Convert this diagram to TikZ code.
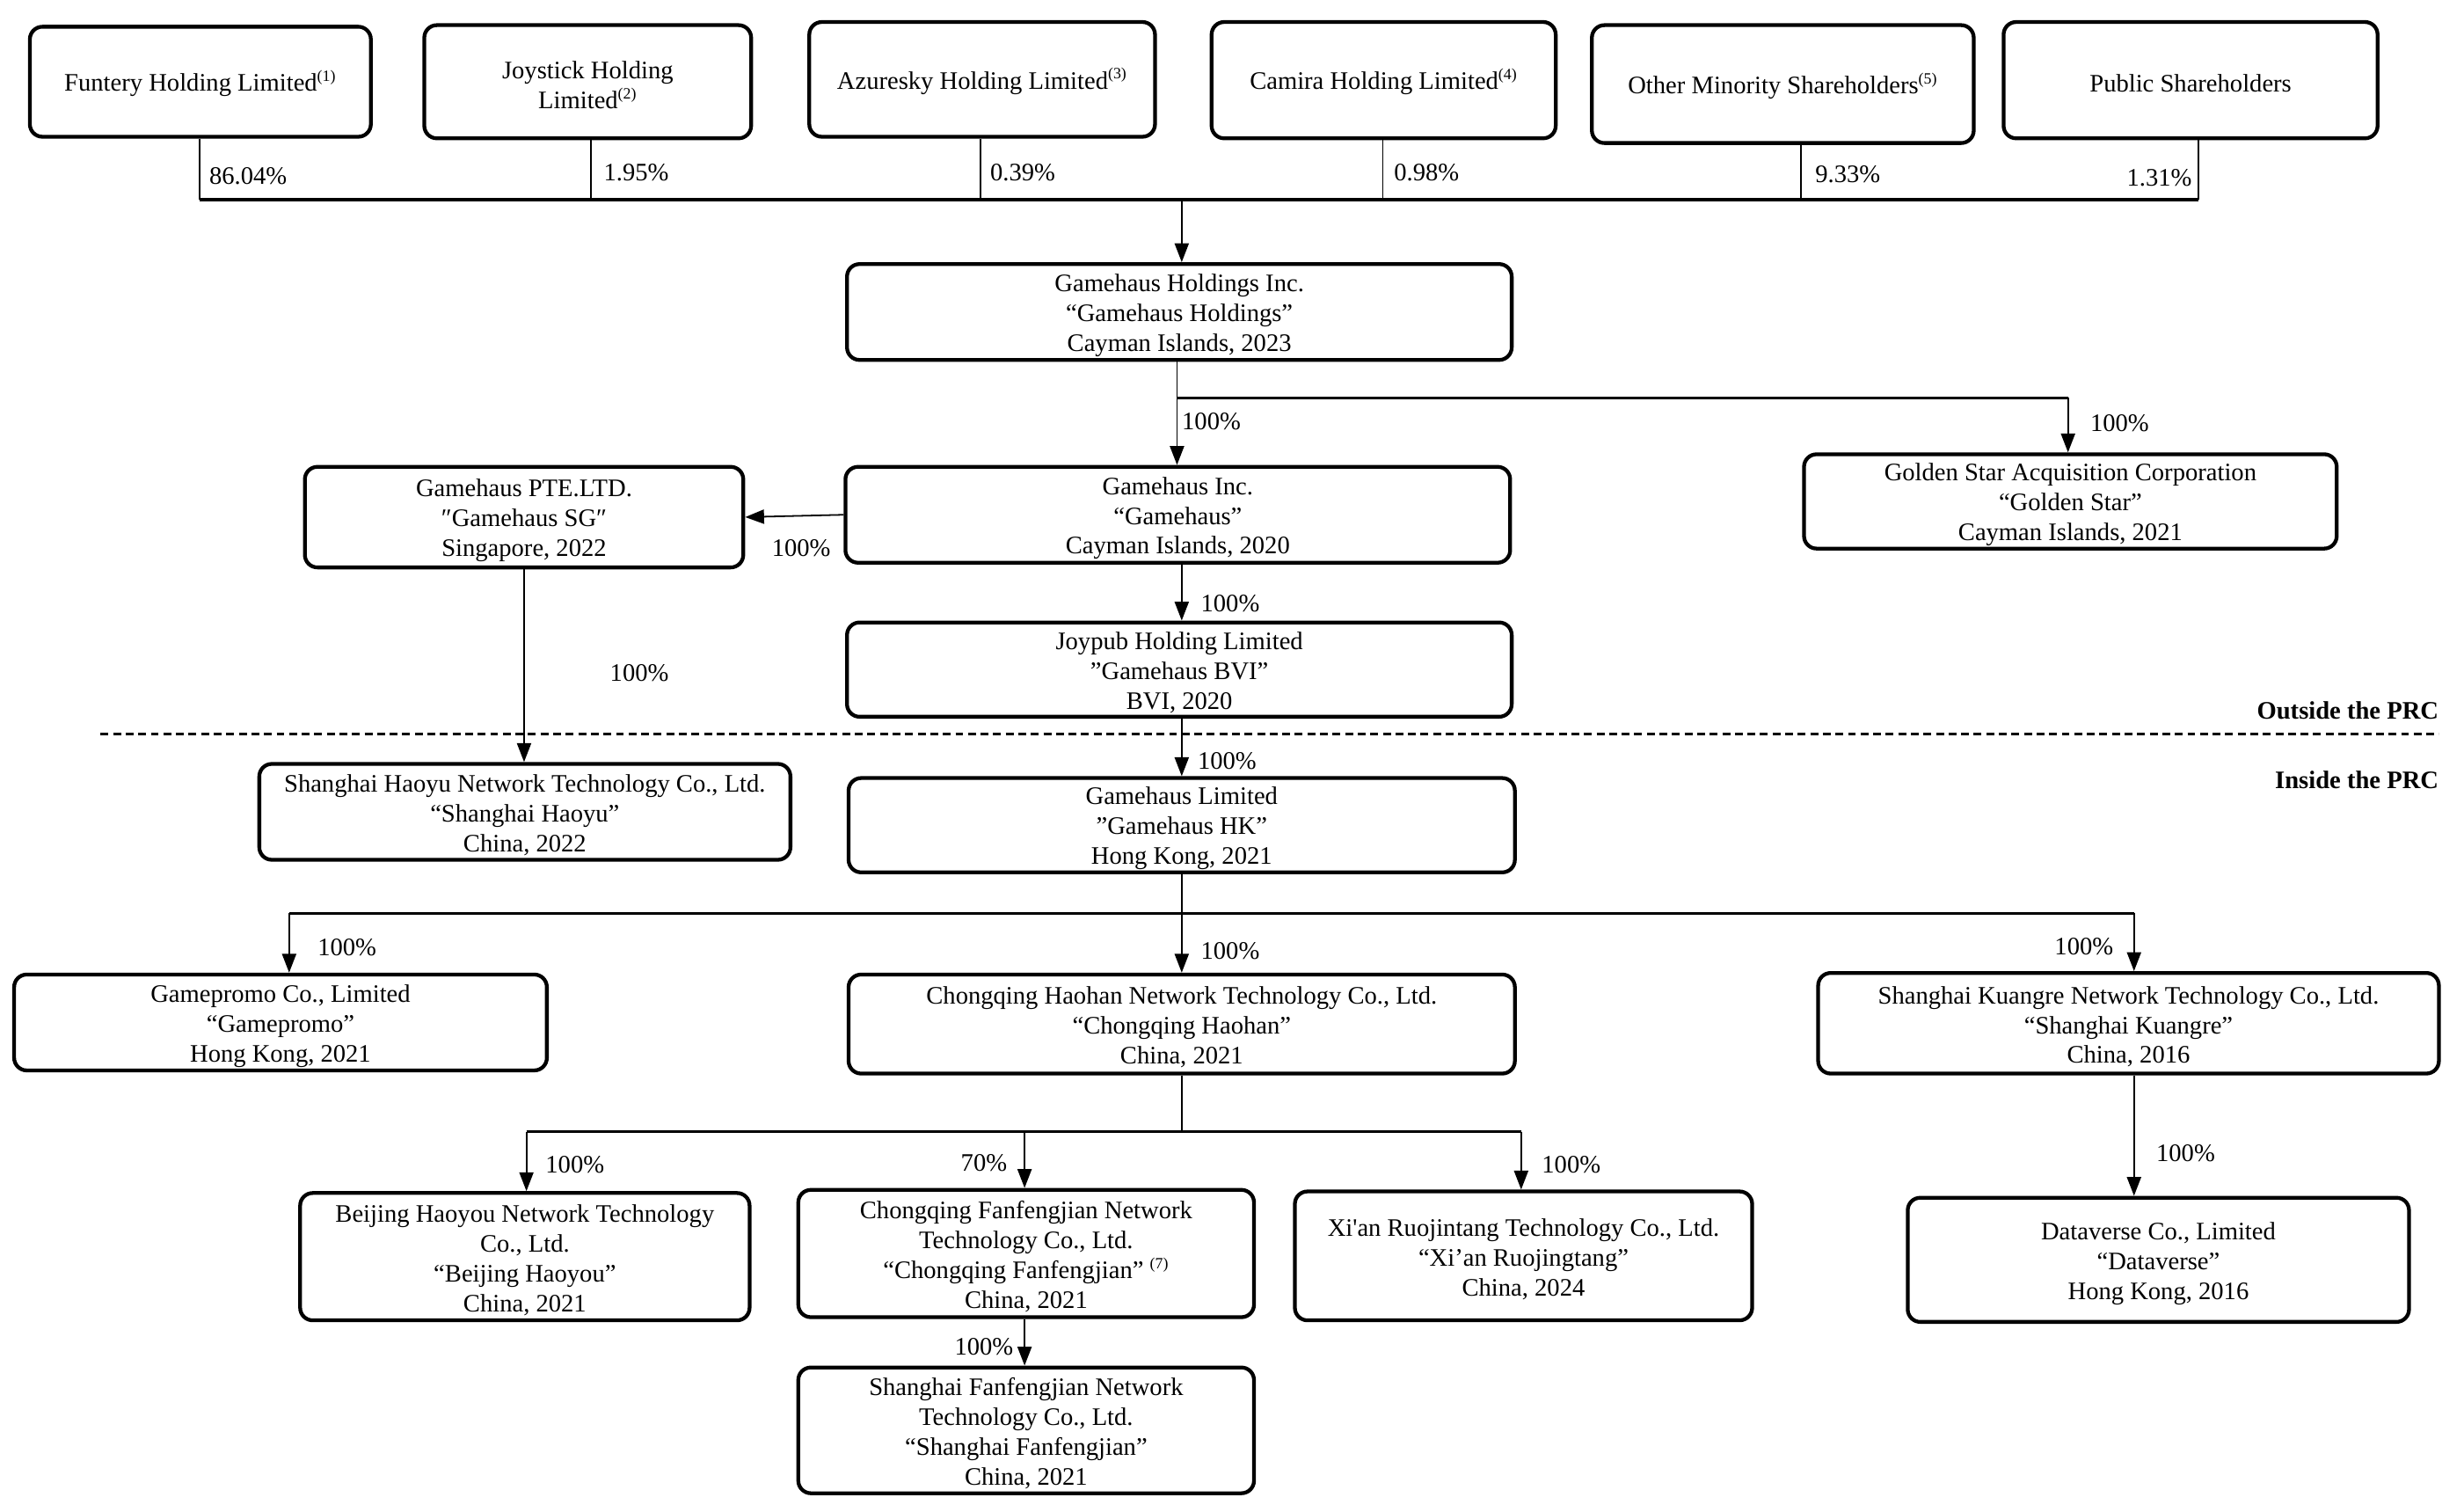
\documentclass[tikz,border=0pt]{standalone}
\usepackage{fontspec}
\setmainfont{Liberation Serif}[Ligatures=TeXOff]
\usetikzlibrary{arrows.meta,calc}
\newcommand\fnm[1]{\textsuperscript{\fontsize{10}{10}\selectfont(#1)}}
\newcommand\bx[6]{\node[box, minimum width={(#4-#2)*1pt}, minimum height={(#5-#3)*1pt}] (#1) at ({(#2+#4)/2},{(#3+#5)/2}) {\rule{0pt}{15.5pt}#6};}
\begin{document}
\begin{tikzpicture}[x=1pt,y=-1pt,
  box/.style={draw, line width=2.4pt, rounded corners=8pt, align=center, inner sep=0pt, font=\fontsize{16}{19}\selectfont},
  pct/.style={font=\fontsize{16}{19}\selectfont, inner sep=0pt},
  lbl/.style={font=\fontsize{16}{19}\selectfont\bfseries, inner sep=0pt, anchor=east},
  thinln/.style={line width=1pt},
  busln/.style={line width=1.8pt},
  arr/.style={line width=1pt, -{Triangle[length=12pt,width=9pt]}}]
\useasboundingbox (0,0) rectangle (1568,961.4);

% top row
\bx{funtery}{19}{17}{236}{87}{Funtery Holding Limited\fnm{1}}
\bx{joystick}{270}{16}{478}{88}{Joystick Holding\\Limited\fnm{2}}
\bx{azuresky}{515}{14}{735}{87}{Azuresky Holding Limited\fnm{3}}
\bx{camira}{771}{14}{990}{88}{Camira Holding Limited\fnm{4}}
\bx{other}{1013}{16}{1256}{91}{Other Minority Shareholders\fnm{5}}
\bx{public}{1275}{14}{1513}{88}{Public Shareholders}

\coordinate (b1) at (127,127);
\coordinate (b2) at (376,127);
\coordinate (b3) at (624,127);
\coordinate (b4) at (880,127);
\coordinate (b5) at (1146,127);
\coordinate (b6) at (1399,127);
\coordinate (bm) at (752,127);
\draw[thinln] (b1 |- funtery.south) -- (b1);
\draw[thinln] (b2 |- joystick.south) -- (b2);
\draw[thinln] (b3 |- azuresky.south) -- (b3);
\draw[thinln] (b4 |- camira.south) -- (b4);
\draw[thinln] (b5 |- other.south) -- (b5);
\draw[thinln] (b6 |- public.south) -- (b6);
\draw[busln] (b1) -- (b6);
\node[pct, anchor=west] (p1) at (133,112) {86.04\%};
\node[pct, anchor=west] (p2) at (384,110) {1.95\%};
\node[pct, anchor=west] (p3) at (630,110) {0.39\%};
\node[pct, anchor=west] (p4) at (887,110) {0.98\%};
\node[pct, anchor=west] (p5) at (1155,111) {9.33\%};
\node[pct, anchor=east] (p6) at (1395,113) {1.31\%};

% holdings
\bx{holdings}{539}{168}{962}{229}{Gamehaus Holdings Inc.\\“Gamehaus Holdings”\\Cayman Islands, 2023}
\draw[arr] (bm) -- (bm |- holdings.north);

\bx{ghinc}{538}{297}{961}{358}{Gamehaus Inc.\\“Gamehaus”\\Cayman Islands, 2020}
\bx{golden}{1148}{289}{1487}{349}{Golden Star Acquisition Corporation\\“Golden Star”\\Cayman Islands, 2021}
\coordinate (h1) at (749,253);
\coordinate (h2) at (1316,253);
\draw[arr] (h1 |- holdings.south) -- (h1 |- ghinc.north);
\draw[busln] (h1) -- (h2);
\draw[arr] (h2) -- (h2 |- golden.north);
\node[pct, anchor=west] (q1) at (752,268) {100\%};
\node[pct, anchor=west] (q2) at (1330,269) {100\%};

\bx{sg}{194}{297}{473}{361}{Gamehaus PTE.LTD.\\″Gamehaus SG″\\Singapore, 2022}
\draw[arr] (ghinc.west) -- (sg.east);
\node[pct, anchor=west] (q3) at (491,349) {100\%};

\bx{haoyu}{165}{486}{503}{547}{Shanghai Haoyu Network Technology Co., Ltd.\\“Shanghai Haoyu”\\China, 2022}
\draw[arr] (sg.south) -- (sg.south |- haoyu.north);
\node[pct, anchor=west] (q4) at (388,428) {100\%};

\coordinate (vx) at (752,0);
\bx{joypub}{539}{396}{962}{456}{Joypub Holding Limited\\”Gamehaus BVI”\\BVI, 2020}
\draw[arr] (ghinc.south -| vx) -- (joypub.north -| vx);
\node[pct, anchor=west] (q5) at (764,384) {100\%};

% PRC divider
\coordinate (d1) at (64,467);
\coordinate (d2) at (1552,467);
\draw[line width=1.2pt, dash pattern=on 5pt off 3pt] (d1) -- (d2);
\node[lbl] (outside) at (1552,452) {Outside the PRC};
\node[lbl] (inside) at (1552,496) {Inside the PRC};

\bx{hk}{540}{495}{964}{555}{Gamehaus Limited\\”Gamehaus HK”\\Hong Kong, 2021}
\draw[arr] (joypub.south -| vx) -- (hk.north -| vx);
\node[pct, anchor=west] (q6) at (762,484) {100\%};

% second level
\bx{gamepromo}{9}{620}{348}{681}{Gamepromo Co., Limited\\“Gamepromo”\\Hong Kong, 2021}
\bx{haohan}{540}{620}{964}{683}{Chongqing Haohan Network Technology Co., Ltd.\\“Chongqing Haohan”\\China, 2021}
\bx{kuangre}{1157}{619}{1552}{683}{Shanghai Kuangre Network Technology Co., Ltd.\\“Shanghai Kuangre”\\China, 2016}
\coordinate (c1) at (184,581);
\coordinate (c2) at (752,581);
\coordinate (c3) at (1358,581);
\draw[thinln] (hk.south -| vx) -- (c2);
\draw[busln] (c1) -- (c3);
\draw[arr] (c1) -- (c1 |- gamepromo.north);
\draw[arr] (c2) -- (c2 |- haohan.north);
\draw[arr] (c3) -- (c3 |- kuangre.north);
\node[pct, anchor=west] (q7) at (202,603) {100\%};
\node[pct, anchor=west] (q8) at (764,605) {100\%};
\node[pct, anchor=east] (q9) at (1345,602) {100\%};

\bx{dataverse}{1214}{762}{1533}{841}{Dataverse Co., Limited\\“Dataverse”\\Hong Kong, 2016}
\draw[arr] (c3 |- kuangre.south) -- (c3 |- dataverse.north);
\node[pct, anchor=west] (q10) at (1372,734) {100\%};

% third level
\bx{beijing}{191}{759}{477}{840}{Beijing Haoyou Network Technology\\Co., Ltd.\\“Beijing Haoyou”\\China, 2021}
\bx{cqfan}{508}{757}{798}{838}{Chongqing Fanfengjian Network\\Technology Co., Ltd.\\“Chongqing Fanfengjian” \fnm{7}\\China, 2021}
\bx{xian}{824}{758}{1115}{840}{Xi'an Ruojintang Technology Co., Ltd.\\“Xi’an Ruojingtang”\\China, 2024}
\coordinate (e1) at (335,720);
\coordinate (e2) at (652,720);
\coordinate (e3) at (968,720);
\coordinate (em) at (752,720);
\draw[thinln] (haohan.south -| vx) -- (em);
\draw[busln] (e1) -- (e3);
\draw[arr] (e1) -- (e1 |- beijing.north);
\draw[arr] (e2) -- (e2 |- cqfan.north);
\draw[arr] (e3) -- (e3 |- xian.north);
\node[pct, anchor=west] (q11) at (347,741) {100\%};
\node[pct, anchor=east] (q12) at (641,740) {70\%};
\node[pct, anchor=west] (q13) at (981,741) {100\%};

\bx{shfan}{508}{870}{798}{950}{Shanghai Fanfengjian Network\\Technology Co., Ltd.\\“Shanghai Fanfengjian”\\China, 2021}
\draw[arr] (e2 |- cqfan.south) -- (e2 |- shfan.north);
\node[pct, anchor=east] (q14) at (645,857) {100\%};
\end{tikzpicture}
\end{document}
